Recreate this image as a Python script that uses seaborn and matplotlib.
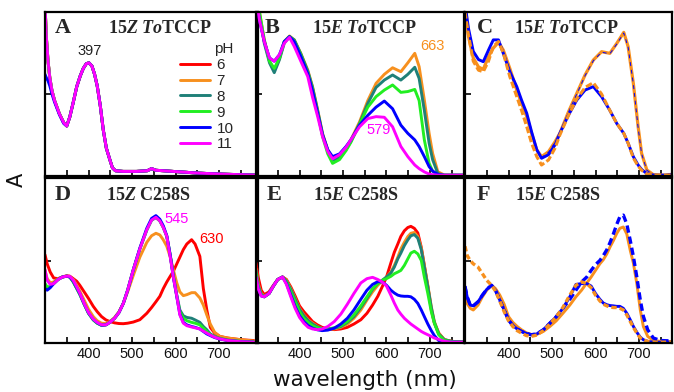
import matplotlib
matplotlib.use("Agg")
import matplotlib.pyplot as plt
import seaborn as sns
from matplotlib import font_manager

# ---------------- data ----------------
ph_labels = ["6", "7", "8", "9", "10", "11"]
ph_colors = ["#ff0000", "#f7901e", "#1f8078", "#22ee22", "#0000ff", "#ff00ff"]

# Panel A: 15Z ToTCCP (all pH nearly identical)
wl_A = [300, 303, 307, 311, 316, 322, 333, 343, 350, 357, 365, 373, 381, 388, 395, 401, 408, 414, 420, 427,
        434, 441, 449, 455, 462, 480, 510, 535, 545, 555, 600, 650, 700, 750, 790]
A_main = [1.05, 0.85, 0.70, 0.60, 0.52, 0.46, 0.38, 0.325, 0.305, 0.36, 0.45, 0.545, 0.61, 0.656, 0.685, 0.69, 0.67, 0.62, 0.55, 0.43,
          0.28, 0.17, 0.10, 0.05, 0.032, 0.028, 0.028, 0.032, 0.045, 0.035, 0.027, 0.018, 0.012, 0.008, 0.005]
A_ph10 = [0.62, 0.60, 0.58, 0.55, 0.50, 0.45, 0.375, 0.32, 0.305, 0.36, 0.45, 0.545, 0.61, 0.656, 0.685, 0.69, 0.67, 0.62, 0.55, 0.43,
          0.28, 0.17, 0.10, 0.05, 0.032, 0.028, 0.028, 0.032, 0.045, 0.035, 0.027, 0.018, 0.012, 0.008, 0.005]

# Panel B: 15E ToTCCP
wl_B = [300, 308, 319, 331, 342, 354, 365, 377, 388, 403, 419, 430, 442, 453, 465, 476, 492, 507, 518, 538,
        557, 576, 595, 614, 633, 649, 665, 675, 687, 698, 706, 718, 733, 760, 780]
B_ph7 = [1.1, 1.0, 0.83, 0.70, 0.646, 0.717, 0.82, 0.854, 0.83, 0.748, 0.646, 0.545, 0.40, 0.26, 0.159, 0.10, 0.118, 0.169, 0.22, 0.33,
         0.46, 0.565, 0.62, 0.66, 0.636, 0.69, 0.748, 0.667, 0.463, 0.26, 0.138, 0.026, 0.006, 0.005, 0.005]
B_ph8 = [1.1, 0.98, 0.81, 0.69, 0.63, 0.71, 0.81, 0.85, 0.83, 0.745, 0.64, 0.54, 0.395, 0.255, 0.155, 0.095, 0.112, 0.162, 0.21, 0.32,
         0.443, 0.54, 0.585, 0.616, 0.585, 0.62, 0.663, 0.595, 0.40, 0.20, 0.10, 0.015, 0.005, 0.005, 0.005]
B_ph9 = [1.1, 1.0, 0.83, 0.70, 0.656, 0.72, 0.82, 0.85, 0.825, 0.74, 0.63, 0.53, 0.385, 0.24, 0.135, 0.077, 0.10, 0.155, 0.205, 0.315,
         0.42, 0.484, 0.524, 0.555, 0.51, 0.515, 0.528, 0.46, 0.22, 0.077, 0.03, 0.005, 0.005, 0.005, 0.005]
B_ph10 = [1.1, 0.95, 0.82, 0.72, 0.70, 0.74, 0.82, 0.85, 0.82, 0.73, 0.625, 0.52, 0.38, 0.25, 0.16, 0.118, 0.135, 0.18, 0.22, 0.31,
          0.37, 0.42, 0.457, 0.41, 0.31, 0.26, 0.22, 0.18, 0.118, 0.057, 0.03, 0.01, 0.005, 0.005, 0.005]
B_ph11 = [1.1, 0.95, 0.82, 0.72, 0.70, 0.74, 0.81, 0.845, 0.79, 0.70, 0.606, 0.48, 0.36, 0.24, 0.15, 0.105, 0.13, 0.175, 0.22, 0.30,
          0.35, 0.362, 0.358, 0.30, 0.18, 0.118, 0.067, 0.045, 0.025, 0.012, 0.008, 0.005, 0.005, 0.005, 0.005]

# Panel C: 15E ToTCCP (solid / dashed pairs)
wl_C = [300, 308, 319, 331, 342, 354, 365, 377, 388, 403, 419, 430, 442, 453, 465, 476, 492, 507, 518, 538,
        557, 576, 595, 614, 633, 649, 665, 675, 687, 698, 706, 718, 733, 760, 780]
C_orange_solid = [1.05, 0.85, 0.72, 0.665, 0.65, 0.728, 0.78, 0.815, 0.768, 0.656, 0.524, 0.443, 0.362, 0.26, 0.159, 0.118, 0.148, 0.209, 0.26, 0.392,
                  0.504, 0.616, 0.707, 0.758, 0.748, 0.809, 0.876, 0.789, 0.565, 0.30, 0.138, 0.037, 0.008, 0.005, 0.012]
C_blue_dashed = [1.05, 0.9, 0.76, 0.71, 0.697, 0.768, 0.83, 0.83, 0.748, 0.636, 0.545, 0.463, 0.382, 0.27, 0.16, 0.112, 0.145, 0.205, 0.258, 0.39,
                 0.50, 0.612, 0.703, 0.755, 0.745, 0.805, 0.872, 0.785, 0.56, 0.295, 0.135, 0.035, 0.01, 0.01, 0.016]
C_blue_solid = [1.05, 0.9, 0.76, 0.71, 0.697, 0.768, 0.83, 0.83, 0.748, 0.636, 0.545, 0.463, 0.382, 0.27, 0.16, 0.108, 0.13, 0.19, 0.26, 0.372,
                0.463, 0.524, 0.545, 0.484, 0.40, 0.32, 0.26, 0.20, 0.118, 0.067, 0.04, 0.015, 0.005, 0.005, 0.01]
C_orange_dashed = [1.0, 0.86, 0.70, 0.645, 0.636, 0.70, 0.79, 0.82, 0.75, 0.606, 0.484, 0.40, 0.30, 0.20, 0.118, 0.067, 0.098, 0.17, 0.25, 0.37,
                   0.47, 0.54, 0.569, 0.50, 0.40, 0.32, 0.26, 0.20, 0.11, 0.06, 0.035, 0.012, 0.005, 0.005, 0.008]

# Panel D: 15Z C258S
wl_D = [300, 305, 312, 320, 330, 340, 350, 357, 365, 373, 380, 390, 400, 411, 420, 430, 440, 449, 460, 470,
        480, 490, 503, 518, 534, 545, 555, 564, 572, 580, 588, 595, 603, 610, 618, 626, 637, 645, 656, 664,
        672, 680, 690, 702, 720, 750, 780]
D_ph6 = [0.535, 0.48, 0.43, 0.394, 0.39, 0.40, 0.408, 0.405, 0.39, 0.374, 0.35, 0.31, 0.27, 0.222, 0.19, 0.16, 0.14, 0.13, 0.122, 0.118,
         0.117, 0.12, 0.127, 0.141, 0.18, 0.215, 0.25, 0.283, 0.33, 0.37, 0.405, 0.434, 0.48, 0.52, 0.566, 0.60, 0.626, 0.60, 0.525, 0.33,
         0.20, 0.095, 0.06, 0.04, 0.03, 0.02, 0.015]
D_ph7 = [0.44, 0.39, 0.365, 0.37, 0.39, 0.40, 0.405, 0.40, 0.385, 0.35, 0.315, 0.26, 0.205, 0.16, 0.135, 0.12, 0.118, 0.13, 0.155, 0.19,
         0.24, 0.31, 0.41, 0.52, 0.61, 0.65, 0.665, 0.655, 0.625, 0.586, 0.52, 0.444, 0.364, 0.31, 0.287, 0.293, 0.305, 0.305, 0.273, 0.23,
         0.17, 0.115, 0.065, 0.04, 0.03, 0.02, 0.012]
D_ph8 = [0.35, 0.335, 0.34, 0.36, 0.385, 0.40, 0.405, 0.40, 0.37, 0.33, 0.295, 0.235, 0.18, 0.14, 0.12, 0.107, 0.11, 0.125, 0.15, 0.185,
         0.24, 0.32, 0.444, 0.57, 0.685, 0.745, 0.76, 0.74, 0.70, 0.646, 0.53, 0.41, 0.29, 0.20, 0.165, 0.155, 0.15, 0.14, 0.125, 0.10,
         0.08, 0.055, 0.04, 0.028, 0.018, 0.01, 0.006]
D_ph9 = [0.36, 0.34, 0.342, 0.36, 0.385, 0.40, 0.405, 0.40, 0.37, 0.33, 0.295, 0.235, 0.18, 0.14, 0.12, 0.107, 0.11, 0.125, 0.15, 0.185,
         0.24, 0.32, 0.444, 0.57, 0.685, 0.745, 0.762, 0.74, 0.70, 0.646, 0.53, 0.405, 0.285, 0.19, 0.15, 0.135, 0.125, 0.12, 0.11, 0.09,
         0.07, 0.05, 0.037, 0.026, 0.016, 0.009, 0.005]
D_ph10 = [0.33, 0.32, 0.335, 0.36, 0.385, 0.40, 0.405, 0.40, 0.375, 0.335, 0.30, 0.238, 0.183, 0.143, 0.123, 0.108, 0.11, 0.125, 0.15, 0.185,
          0.24, 0.32, 0.444, 0.575, 0.695, 0.755, 0.772, 0.75, 0.71, 0.65, 0.53, 0.40, 0.28, 0.175, 0.125, 0.11, 0.10, 0.095, 0.085, 0.07,
          0.055, 0.045, 0.033, 0.024, 0.015, 0.008, 0.005]
D_ph11 = [0.444, 0.38, 0.355, 0.36, 0.384, 0.40, 0.405, 0.404, 0.38, 0.34, 0.303, 0.24, 0.185, 0.145, 0.125, 0.11, 0.11, 0.125, 0.15, 0.185,
          0.24, 0.32, 0.444, 0.57, 0.687, 0.745, 0.762, 0.74, 0.70, 0.646, 0.52, 0.40, 0.283, 0.17, 0.12, 0.105, 0.097, 0.092, 0.085, 0.072,
          0.06, 0.048, 0.035, 0.025, 0.015, 0.008, 0.005]

# Panel E: 15E C258S
wl_E = [300, 305, 312, 319, 330, 340, 350, 361, 370, 380, 390, 400, 410, 420, 430, 441, 452, 465, 480, 495,
        510, 525, 541, 555, 568, 580, 590, 600, 610, 618, 626, 633, 641, 649, 656, 664, 672, 680, 687, 695,
        703, 710, 720, 733, 750, 780]
E_ph6 = [0.485, 0.40, 0.32, 0.293, 0.31, 0.35, 0.385, 0.40, 0.385, 0.34, 0.285, 0.225, 0.19, 0.16, 0.13, 0.11, 0.095, 0.085, 0.081, 0.085,
         0.095, 0.115, 0.141, 0.18, 0.23, 0.283, 0.34, 0.40, 0.485, 0.55, 0.60, 0.646, 0.68, 0.70, 0.707, 0.695, 0.667, 0.58, 0.47, 0.343,
         0.20, 0.121, 0.06, 0.02, 0.01, 0.005]
E_ph7 = [0.45, 0.36, 0.30, 0.285, 0.30, 0.345, 0.385, 0.40, 0.38, 0.33, 0.27, 0.21, 0.17, 0.14, 0.12, 0.10, 0.088, 0.083, 0.085, 0.095,
         0.115, 0.15, 0.20, 0.26, 0.31, 0.35, 0.375, 0.40, 0.43, 0.47, 0.52, 0.57, 0.61, 0.645, 0.665, 0.67, 0.645, 0.575, 0.47, 0.35,
         0.22, 0.13, 0.06, 0.02, 0.01, 0.005]
E_ph8 = [0.44, 0.35, 0.295, 0.28, 0.30, 0.345, 0.385, 0.40, 0.375, 0.325, 0.265, 0.205, 0.165, 0.135, 0.115, 0.098, 0.088, 0.085, 0.09, 0.10,
         0.125, 0.16, 0.215, 0.27, 0.325, 0.36, 0.38, 0.40, 0.424, 0.46, 0.51, 0.545, 0.59, 0.625, 0.65, 0.657, 0.635, 0.565, 0.46, 0.34,
         0.215, 0.125, 0.055, 0.02, 0.01, 0.005]
E_ph9 = [0.42, 0.34, 0.29, 0.28, 0.30, 0.345, 0.385, 0.40, 0.37, 0.31, 0.25, 0.19, 0.15, 0.125, 0.105, 0.092, 0.085, 0.085, 0.092, 0.105,
         0.13, 0.17, 0.225, 0.28, 0.33, 0.36, 0.38, 0.39, 0.404, 0.42, 0.43, 0.44, 0.47, 0.51, 0.545, 0.556, 0.54, 0.50, 0.40, 0.30,
         0.19, 0.12, 0.05, 0.015, 0.008, 0.005]
E_ph10 = [0.40, 0.33, 0.285, 0.28, 0.30, 0.345, 0.385, 0.40, 0.36, 0.29, 0.22, 0.165, 0.13, 0.105, 0.09, 0.08, 0.075, 0.078, 0.09, 0.115,
          0.15, 0.20, 0.265, 0.32, 0.355, 0.372, 0.37, 0.35, 0.32, 0.303, 0.29, 0.285, 0.283, 0.283, 0.28, 0.265, 0.24, 0.20, 0.16, 0.115,
          0.075, 0.045, 0.015, 0.006, 0.005, 0.005]
E_ph11 = [0.40, 0.33, 0.285, 0.28, 0.30, 0.345, 0.385, 0.40, 0.355, 0.28, 0.21, 0.155, 0.12, 0.095, 0.085, 0.081, 0.085, 0.10, 0.13, 0.175,
          0.235, 0.30, 0.364, 0.39, 0.398, 0.385, 0.37, 0.345, 0.29, 0.242, 0.20, 0.175, 0.15, 0.131, 0.115, 0.10, 0.085, 0.07, 0.06, 0.05,
          0.04, 0.03, 0.022, 0.01, 0.005, 0.005]

# Panel F: 15E C258S (solid / dashed pairs)
wl_F = [300, 305, 312, 319, 330, 340, 350, 361, 370, 380, 390, 400, 410, 420, 430, 441, 452, 465, 480, 495,
        510, 525, 541, 555, 568, 580, 590, 600, 610, 618, 626, 633, 641, 649, 656, 664, 672, 680, 687, 695,
        703, 710, 720, 733, 750, 780]
F_orange_solid = [0.30, 0.24, 0.21, 0.20, 0.23, 0.28, 0.32, 0.35, 0.33, 0.29, 0.235, 0.16, 0.125, 0.10, 0.08, 0.062, 0.052, 0.052, 0.07, 0.10,
                  0.135, 0.18, 0.23, 0.28, 0.32, 0.364, 0.40, 0.44, 0.48, 0.505, 0.54, 0.58, 0.62, 0.665, 0.695, 0.703, 0.66, 0.56, 0.485, 0.36,
                  0.20, 0.10, 0.04, 0.015, 0.01, 0.008]
F_blue_dashed = [0.343, 0.28, 0.23, 0.225, 0.25, 0.29, 0.325, 0.35, 0.32, 0.26, 0.20, 0.14, 0.105, 0.085, 0.07, 0.058, 0.05, 0.055, 0.08, 0.12,
                 0.16, 0.21, 0.265, 0.32, 0.37, 0.40, 0.44, 0.475, 0.50, 0.53, 0.565, 0.606, 0.66, 0.72, 0.765, 0.775, 0.72, 0.62, 0.525, 0.40,
                 0.26, 0.162, 0.08, 0.03, 0.015, 0.012]
F_blue_solid = [0.343, 0.28, 0.23, 0.225, 0.25, 0.29, 0.325, 0.35, 0.32, 0.26, 0.20, 0.14, 0.105, 0.085, 0.07, 0.058, 0.05, 0.055, 0.08, 0.12,
                0.16, 0.21, 0.28, 0.355, 0.36, 0.36, 0.345, 0.30, 0.265, 0.242, 0.232, 0.227, 0.225, 0.222, 0.222, 0.21, 0.18, 0.14, 0.101, 0.065,
                0.035, 0.02, 0.01, 0.005, 0.005, 0.005]
F_orange_dashed = [0.586, 0.53, 0.50, 0.48, 0.46, 0.42, 0.38, 0.35, 0.315, 0.255, 0.19, 0.135, 0.10, 0.075, 0.06, 0.045, 0.04, 0.048, 0.075, 0.115,
                   0.16, 0.215, 0.29, 0.35, 0.37, 0.36, 0.335, 0.29, 0.255, 0.235, 0.225, 0.218, 0.215, 0.215, 0.21, 0.20, 0.17, 0.13, 0.095, 0.06,
                   0.03, 0.018, 0.01, 0.005, 0.005, 0.005]

major_ticks = [400, 500, 600, 700]
minor_ticks = [350, 450, 550, 650, 750]

# ---------------- style ----------------
sns.set_theme(style="white")
installed = {f.name for f in font_manager.fontManager.ttflist}
if "Liberation Sans Narrow" in installed:
    narrow, nsize = "Liberation Sans Narrow", 11.5
elif "Liberation Sans" in installed:
    narrow, nsize = "Liberation Sans", 10.5
else:
    narrow, nsize = "DejaVu Sans", 9.5
serif = "Liberation Serif" if "Liberation Serif" in installed else "DejaVu Serif"
plt.rcParams["font.family"] = ["DejaVu Sans"]
plt.rcParams["mathtext.fontset"] = "custom"
plt.rcParams["mathtext.rm"] = serif + ":bold"
plt.rcParams["mathtext.bf"] = serif + ":bold"
plt.rcParams["mathtext.it"] = serif + ":italic:bold"

W, H = 674, 392
fig = plt.figure(figsize=(W / 100, H / 100), dpi=100)
fig.patch.set_facecolor("white")

orange = ph_colors[1]
blue = ph_colors[4]
LW = 2.1


def make_ax(x0, x1, ytop, ybot):
    ax = fig.add_axes([x0 / W, 1 - ybot / H, (x1 - x0) / W, (ybot - ytop) / H])
    ax.set_facecolor("none")
    ax.set_xlim(300, 300 + (x1 - x0) / 0.435)
    ax.set_ylim(0, 1)
    return ax


def finish(ax, bottom_labels):
    ax.set_xticks(major_ticks)
    ax.set_xticks(minor_ticks, minor=True)
    ax.set_yticks([0.5])
    ax.set_yticklabels([])
    ax.tick_params(which="both", direction="in", length=4, width=1.2, color="black",
                   top=False, right=False, bottom=True, left=True, pad=3)
    if bottom_labels:
        ax.set_xticklabels([str(t) for t in major_ticks], fontfamily=narrow, fontsize=nsize, color="#111111")
    else:
        ax.set_xticklabels([])
    for s in ax.spines.values():
        s.set_linewidth(1.6)
        s.set_color("black")
        s.set_visible(True)
    ax.set_xlabel("")
    ax.set_ylabel("")
    ax.grid(False)


def label(ax, letter, title, tx, lx):
    ax.text(lx, 0.90, letter, transform=ax.transAxes, ha="left", va="center",
            fontfamily=serif, fontweight="bold", fontsize=16)
    ax.text(tx, 0.90, title, transform=ax.transAxes, ha="center", va="center", fontsize=13)


def line(ax, x, y, color, lw=LW, dashes=None):
    sns.lineplot(x=x, y=y, ax=ax, color=color, linewidth=lw, legend=False)
    ln = ax.lines[-1]
    if dashes is not None:
        ln.set_dashes(dashes)
    return ln


def note(ax, x, y, s, color):
    ax.text(x, y, s, ha="center", va="center", fontfamily=narrow, fontsize=nsize, color=color)


# Panel A
axA = make_ax(45, 258, 12, 176)
A_series = [A_main, A_main, A_main, A_main, A_ph10, A_main]
for lab, col, vals in zip(ph_labels, ph_colors, A_series):
    sns.lineplot(x=wl_A, y=vals, ax=axA, color=col, linewidth=LW, label=lab)
finish(axA, False)
label(axA, "A", r"$15Z\ \mathit{To}\mathrm{TCCP}$", 0.538, 0.045)
note(axA, 403, 0.76, "397", "#222222")
leg = axA.legend(title="pH", loc="upper right", bbox_to_anchor=(0.885, 0.815), frameon=False,
                 prop={"family": narrow, "size": nsize + 0.5}, handlelength=2.0, handletextpad=0.4,
                 labelspacing=0.12, borderpad=0, borderaxespad=0, alignment="right")
leg.get_title().set_fontfamily(narrow)
leg.get_title().set_fontsize(nsize + 0.5)

# Panel B
axB = make_ax(256, 464, 12, 176)
for col, vals in zip(ph_colors[1:], [B_ph7, B_ph8, B_ph9, B_ph10, B_ph11]):
    line(axB, wl_B, vals, col)
finish(axB, False)
label(axB, "B", r"$15\mathit{E}\ \mathit{To}\mathrm{TCCP}$", 0.52, 0.043)
note(axB, 705, 0.79, "663", orange)
note(axB, 583, 0.28, "579", ph_colors[5])

# Panel C
axC = make_ax(465, 672, 12, 176)
line(axC, wl_C, C_orange_solid, orange, lw=2.3)
line(axC, wl_C, C_blue_dashed, blue, lw=0.7, dashes=(4, 4))
line(axC, wl_C, C_blue_solid, blue)
line(axC, wl_C, C_orange_dashed, orange, lw=2.2, dashes=(2.2, 0.9))
finish(axC, False)
label(axC, "C", r"$15\mathit{E}\ \mathit{To}\mathrm{TCCP}$", 0.49, 0.058)

# Panel D
axD = make_ax(45, 258, 178, 343)
for col, vals in zip(ph_colors, [D_ph6, D_ph7, D_ph8, D_ph9, D_ph10, D_ph11]):
    line(axD, wl_D, vals, col)
finish(axD, True)
label(axD, "D", r"$15Z\ \mathrm{C258S}$", 0.486, 0.047)
note(axD, 603, 0.75, "545", ph_colors[5])
note(axD, 682, 0.63, "630", ph_colors[0])

# Panel E
axE = make_ax(256, 464, 178, 343)
for col, vals in zip(ph_colors, [E_ph6, E_ph7, E_ph8, E_ph9, E_ph10, E_ph11]):
    line(axE, wl_E, vals, col)
finish(axE, True)
label(axE, "E", r"$15\mathit{E}\ \mathrm{C258S}$", 0.48, 0.053)

# Panel F
axF = make_ax(465, 672, 178, 343)
line(axF, wl_F, F_orange_solid, orange)
line(axF, wl_F, F_blue_dashed, blue, lw=2.4, dashes=(2.2, 1.2))
line(axF, wl_F, F_blue_solid, blue)
line(axF, wl_F, F_orange_dashed, orange, lw=2.4, dashes=(1.6, 0.9))
finish(axF, True)
label(axF, "F", r"$15\mathit{E}\ \mathrm{C258S}$", 0.447, 0.058)

fig.text(365 / W, 1 - 380 / H, "wavelength (nm)", ha="center", va="center", fontsize=15.5, color="#111111")
fig.text(17 / W, 1 - 180 / H, "A", ha="center", va="center", rotation=90, fontsize=15, color="#111111")

fig.savefig("out.png", dpi=100, facecolor="white")
